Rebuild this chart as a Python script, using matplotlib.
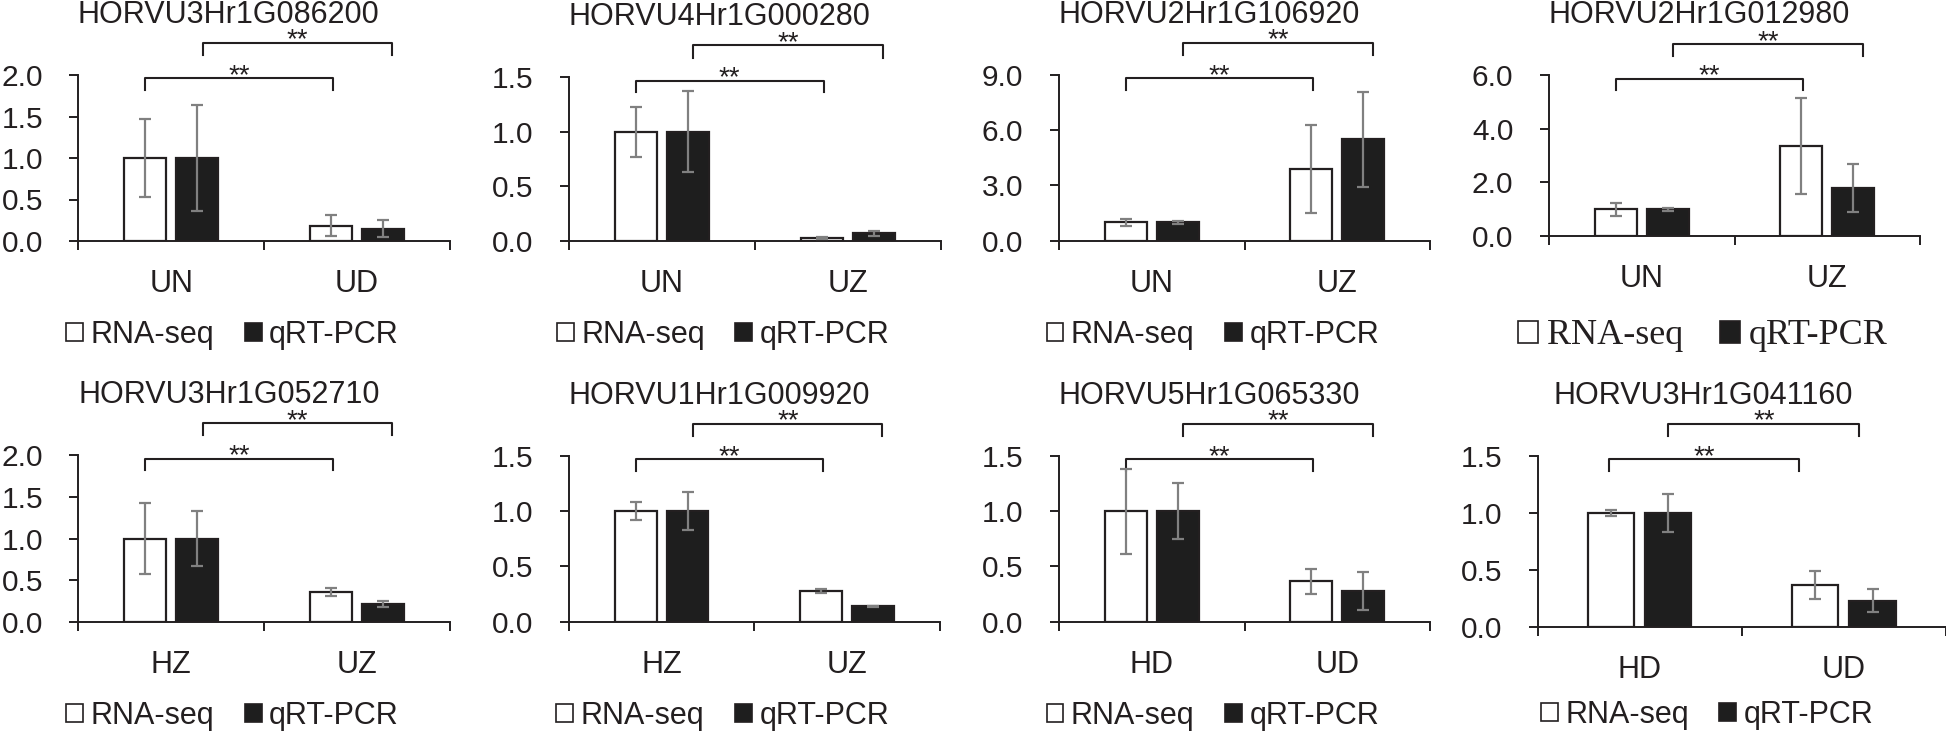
import numpy as np
import matplotlib
matplotlib.use('Agg')
import matplotlib.pyplot as plt
from matplotlib.patches import Patch
from matplotlib.ticker import FormatStrFormatter
from matplotlib.transforms import offset_copy, blended_transform_factory

plt.rcParams['font.family'] = ['Liberation Sans', 'DejaVu Sans']

# data (relative expression, mean +- error)
genes = ['HORVU3Hr1G086200', 'HORVU4Hr1G000280', 'HORVU2Hr1G106920', 'HORVU2Hr1G012980',
         'HORVU3Hr1G052710', 'HORVU1Hr1G009920', 'HORVU5Hr1G065330', 'HORVU3Hr1G041160']
groups = [('UN', 'UD'), ('UN', 'UZ'), ('UN', 'UZ'), ('UN', 'UZ'),
          ('HZ', 'UZ'), ('HZ', 'UZ'), ('HD', 'UD'), ('HD', 'UD')]
rna_mean = [[1.0, 0.185], [1.0, 0.028], [1.0, 3.91], [1.0, 3.37],
            [1.0, 0.36], [1.0, 0.278], [1.0, 0.368], [1.0, 0.366]]
rna_err = [[0.47, 0.125], [0.23, 0.01], [0.2, 2.4], [0.24, 1.8],
           [0.43, 0.05], [0.08, 0.02], [0.385, 0.113], [0.027, 0.12]]
qpcr_mean = [[1.0, 0.15], [1.0, 0.067], [1.0, 5.5], [1.0, 1.78],
             [1.0, 0.216], [1.0, 0.139], [1.0, 0.278], [1.0, 0.23]]
qpcr_err = [[0.64, 0.10], [0.37, 0.025], [0.08, 2.6], [0.05, 0.89],
            [0.33, 0.035], [0.17, 0.005], [0.255, 0.17], [0.17, 0.097]]
y_max = [2.0, 1.5, 9.0, 6.0, 2.0, 1.5, 1.5, 1.5]
y_step = [0.5, 0.5, 3.0, 2.0, 0.5, 0.5, 0.5, 0.5]
series = ['RNA-seq', 'qRT-PCR']

# layout (pixels in the 1946x732 canvas): left, top, right, bottom of each plot area
W, H = 1946, 732
panel_px = [(78.3, 75.0, 450.0, 241.0), (568.7, 77.3, 941.0, 240.7),
            (1058.7, 75.0, 1430.3, 240.7), (1548.7, 75.3, 1920.3, 236.0),
            (78.3, 455.3, 450.0, 621.7), (568.7, 456.0, 940.0, 621.7),
            (1058.7, 456.0, 1430.3, 621.7), (1537.7, 456.0, 1946.0, 626.7)]
# brackets: (x0, x1, y, y_drop) for lower and upper bracket, x in data, y in axes fraction
brk_low = [(-0.14, 0.87, 0.98, 0.91)] * 7 + [(-0.15, 0.78, 0.98, 0.91)]
brk_high = [(0.17, 1.19, 1.195, 1.12)] * 7 + [(0.14, 1.075, 1.19, 1.12)]
legend_drop = [94, 94, 94, 100, 94, 94, 94, 88]
legend_font = ['Liberation Sans'] * 3 + ['Liberation Serif'] + ['Liberation Sans'] * 4
legend_size = [22, 22, 22, 26, 22, 22, 22, 22]

INK = '#231f20'
DARK = '#1e1e1e'
GREY = '#808080'
bw = 0.226
off = 0.14

fig = plt.figure(figsize=(W / 100, H / 100), dpi=100)

for i in range(len(genes)):
    l, t, r, b = panel_px[i]
    ax = fig.add_axes([l / W, 1 - b / H, (r - l) / W, (b - t) / H])
    x = np.arange(2)

    ax.bar(x - off, rna_mean[i], bw, color='white', edgecolor=INK, linewidth=1.6, zorder=2)
    ax.bar(x + off, qpcr_mean[i], bw, color=DARK, edgecolor=INK, linewidth=1.6, zorder=2)
    ax.errorbar(x - off, rna_mean[i], yerr=rna_err[i], fmt='none', ecolor=GREY,
                elinewidth=1.6, capsize=4, capthick=1.6, zorder=3)
    ax.errorbar(x + off, qpcr_mean[i], yerr=qpcr_err[i], fmt='none', ecolor=GREY,
                elinewidth=1.6, capsize=4, capthick=1.6, zorder=3)

    ax.set_xlim(-0.5, 1.5)
    ax.set_ylim(0, y_max[i])
    ax.set_yticks(np.arange(0, y_max[i] + y_step[i] / 2, y_step[i]))
    ax.yaxis.set_major_formatter(FormatStrFormatter('%.1f'))
    ax.set_xticks(x)
    ax.set_xticklabels(groups[i])
    ax.set_xticks([-0.5, 0.5, 1.5], minor=True)
    ax.tick_params(axis='x', which='major', length=0, pad=20.5, labelsize=22, labelcolor=INK)
    ax.tick_params(axis='x', which='minor', length=6.5, width=1.4, color=INK)
    ax.tick_params(axis='y', length=6.5, width=1.4, pad=19, labelsize=21.5,
                   color=INK, labelcolor=INK)
    for s in ['top', 'right']:
        ax.spines[s].set_visible(False)
    for s in ['left', 'bottom']:
        ax.spines[s].set_linewidth(1.4)
        ax.spines[s].set_color(INK)

    # gene title
    ax.text(0.405, 1.0, genes[i], ha='center', va='baseline', fontsize=22, color=INK,
            transform=offset_copy(ax.transAxes, fig, y=52, units='dots'))

    # significance brackets
    trans = blended_transform_factory(ax.transData, ax.transAxes)
    for x0, x1, yb, yd in (brk_low[i], brk_high[i]):
        ax.plot([x0, x0, x1, x1], [yd, yb, yb, yd], color=INK, lw=1.5,
                transform=trans, clip_on=False)
        ax.text((x0 + x1) / 2, yb, '**', ha='center', va='baseline', fontsize=20, color=INK,
                transform=offset_copy(trans, fig, y=-5, units='dots'))

    handles = [Patch(facecolor='white', edgecolor=INK, linewidth=1.2, label=series[0]),
               Patch(facecolor=DARK, edgecolor=INK, linewidth=1.2, label=series[1])]
    leg = ax.legend(handles=handles, ncol=2, frameon=False, loc='center',
                    bbox_to_anchor=(0.415, -legend_drop[i] / (b - t)),
                    prop={'family': legend_font[i], 'size': legend_size[i]},
                    handlelength=0.55, handleheight=0.55, handletextpad=0.25,
                    columnspacing=1.0, borderaxespad=0, borderpad=0)
    for txt in leg.get_texts():
        txt.set_color(INK)

fig.savefig('out.png', dpi=100)
